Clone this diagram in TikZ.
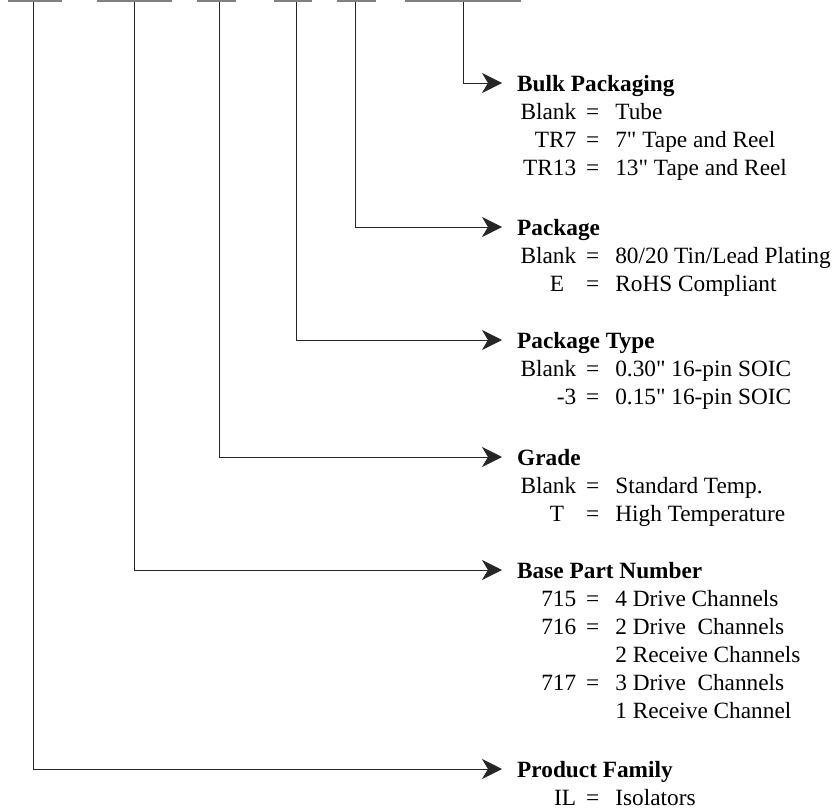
\documentclass[tikz,border=0pt]{standalone}
\usepackage{fontspec}
\setmainfont{Liberation Serif}
\usepackage{array}
\usetikzlibrary{arrows.meta}
\tikzset{
  bar/.style={fill=black!50, inner sep=0pt, minimum height=2pt, anchor=north},
  lead/.style={draw=black!85, line width=0.9pt, -{Stealth[length=20pt, width=20pt, inset=6pt]}},
  codes/.style={anchor=base west, inner sep=0pt, font=\fontsize{23.3}{28}\selectfont},
}
\newcolumntype{K}{>{\raggedleft\arraybackslash}p{59pt}}
\newcommand{\codelist}[2]{\begin{tabular}[t]{@{}K@{\hspace{10pt}}c@{\hspace{16pt}}l@{}}
  \multicolumn{3}{@{}l@{}}{\textbf{#1}}\\ #2\end{tabular}}
\newcommand{\inch}{\textquotedbl}
\begin{document}
\begin{tikzpicture}[x=1pt, y=-1pt]
  \useasboundingbox (0,0) rectangle (836,811);
  % blanks of the part number
  \node[bar, minimum width=54pt]  (bar1) at (35,0) {};
  \node[bar, minimum width=75pt]  (bar2) at (134.5,0) {};
  \node[bar, minimum width=39pt]  (bar3) at (216.5,0) {};
  \node[bar, minimum width=38pt]  (bar4) at (293,0) {};
  \node[bar, minimum width=39pt]  (bar5) at (356.5,0) {};
  \node[bar, minimum width=116pt] (bar6) at (463,0) {};
  % code lists
  \node[codes] (bulk) at (517,91) {\codelist{Bulk Packaging}{%
    Blank & = & Tube\\ TR7 & = & 7\inch{} Tape and Reel\\ TR13 & = & 13\inch{} Tape and Reel}};
  \node[codes] (pkg) at (517,235) {\codelist{Package}{%
    Blank & = & 80/20 Tin/Lead Plating\\ E\hspace*{12pt} & = & RoHS Compliant}};
  \node[codes] (ptype) at (517,348) {\codelist{Package Type}{%
    Blank & = & 0.30\inch{} 16-pin SOIC\\ -3 & = & 0.15\inch{} 16-pin SOIC}};
  \node[codes] (grade) at (517,465) {\codelist{Grade}{%
    Blank & = & Standard Temp.\\ T\hspace*{12pt} & = & High Temperature}};
  \node[codes] (base) at (517,578) {\codelist{Base Part Number}{%
    715 & = & 4 Drive Channels\\ 716 & = & 2 Drive\ \ Channels\\ & & 2 Receive Channels\\
    717 & = & 3 Drive\ \ Channels\\ & & 1 Receive Channel}};
  \node[codes] (family) at (517,777) {\codelist{Product Family}{%
    IL & = & Isolators}};
  % leaders from each blank down to its list
  \draw[lead] (bar6.south) |- ([xshift=-15pt, yshift=8pt]bulk.base west);
  \draw[lead] ([xshift=-1.5pt]bar5.south) |- ([xshift=-15pt, yshift=8pt]pkg.base west);
  \draw[lead] ([xshift=3pt]bar4.south) |- ([xshift=-15pt, yshift=8pt]ptype.base west);
  \draw[lead] ([xshift=2.5pt]bar3.south) |- ([xshift=-15pt, yshift=8pt]grade.base west);
  \draw[lead] (bar2.south) |- ([xshift=-15pt, yshift=8pt]base.base west);
  \draw[lead] ([xshift=-2pt]bar1.south) |- ([xshift=-15pt, yshift=8pt]family.base west);
\end{tikzpicture}
\end{document}
